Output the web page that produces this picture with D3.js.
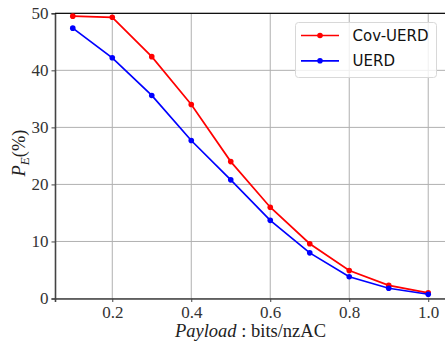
<!DOCTYPE html>
<html>
<head>
<meta charset="utf-8">
<script src="https://cdn.jsdelivr.net/npm/d3@7"></script>
<style>
  html, body { margin: 0; padding: 0; background: #fff; }
  svg { display: block; }
</style>
</head>
<body>
<script>
const payload = [0.1, 0.2, 0.3, 0.4, 0.5, 0.6, 0.7, 0.8, 0.9, 1.0];
const covUERD = [49.5, 49.3, 42.4, 34.0, 24.0, 16.0, 9.6, 4.9, 2.3, 1.0];
const uerd    = [47.4, 42.2, 35.6, 27.7, 20.8, 13.7, 8.0, 3.8, 1.8, 0.75];
const xTicks = [0.2, 0.4, 0.6, 0.8, 1.0];
const yTicks = [0, 10, 20, 30, 40, 50];
const seriesNames = ["Cov-UERD", "UERD"];
const seriesColors = ["#ff0000", "#0000ff"];

const W = 445, H = 347;
const pLeft = 55, pRight = 446, pTop = 13.3, pBottom = 298.5;

const svg = d3.select("body").append("svg").attr("width", W).attr("height", H);

const x = d3.scaleLinear().domain([0.055, 1.045]).range([pLeft, pRight]);
const y = d3.scaleLinear().domain([0, 50]).range([pBottom, pTop]);

const serif = "'Liberation Serif', 'DejaVu Serif', serif";

// grid
const grid = svg.append("g");
grid.selectAll("line.gx").data(xTicks).enter().append("line")
  .attr("x1", d => x(d)).attr("x2", d => x(d))
  .attr("y1", pTop).attr("y2", pBottom)
  .attr("stroke", "#b0b0b0").attr("stroke-width", 1);
grid.selectAll("line.gy").data(yTicks).enter().append("line")
  .attr("x1", pLeft).attr("x2", pRight)
  .attr("y1", d => y(d)).attr("y2", d => y(d))
  .attr("stroke", "#b0b0b0").attr("stroke-width", 1);

// axes
const xAxis = d3.axisBottom(x).tickValues(xTicks).tickFormat(d3.format(".1f")).tickSizeOuter(0).tickSize(3.5).tickPadding(4);
const yAxis = d3.axisLeft(y).tickValues(yTicks).tickFormat(d3.format("d")).tickSizeOuter(0).tickSize(3.5).tickPadding(3);

const gx = svg.append("g").attr("transform", `translate(0,${pBottom})`).call(xAxis);
const gy = svg.append("g").attr("transform", `translate(${pLeft},0)`).call(yAxis);
[gx, gy].forEach(g => {
  g.select(".domain").attr("stroke", "#444").attr("stroke-width", 1.6);
  g.selectAll(".tick line").attr("stroke", "#444").attr("stroke-width", 1);
  g.selectAll(".tick text").attr("font-family", serif).attr("font-size", 17).attr("fill", "#333");
});
// top spine
svg.append("line").attr("x1", pLeft).attr("x2", pRight).attr("y1", pTop).attr("y2", pTop)
  .attr("stroke", "#111").attr("stroke-width", 1.2);

// lines
const series = [covUERD, uerd];
const line = d3.line().x((d, i) => x(payload[i])).y(d => y(d));
series.forEach((vals, k) => {
  svg.append("path").datum(vals).attr("d", line)
    .attr("fill", "none").attr("stroke", seriesColors[k]).attr("stroke-width", 1.7);
  svg.selectAll(null).data(vals).enter().append("circle")
    .attr("cx", (d, i) => x(payload[i])).attr("cy", d => y(d)).attr("r", 2.8)
    .attr("fill", seriesColors[k]);
});

// legend
const lg = svg.append("g");
lg.append("rect").attr("x", 295.5).attr("y", 22.5).attr("width", 141).attr("height", 55)
  .attr("rx", 3).attr("fill", "#fff").attr("fill-opacity", 0.8)
  .attr("stroke", "#d8d8d8").attr("stroke-width", 1);
seriesNames.forEach((name, k) => {
  const yy = 35.5 + k * 25.3;
  lg.append("line").attr("x1", 301).attr("x2", 339).attr("y1", yy).attr("y2", yy)
    .attr("stroke", seriesColors[k]).attr("stroke-width", 1.7);
  lg.append("circle").attr("cx", 320).attr("cy", yy).attr("r", 2.8).attr("fill", seriesColors[k]);
  lg.append("text").attr("x", 352.5).attr("y", yy).attr("dy", "0.36em")
    .attr("font-family", "'DejaVu Sans', sans-serif").attr("font-size", 15).attr("fill", "#111")
    .text(name);
});

// x label
const xl = svg.append("text").attr("x", 250.5).attr("y", 336.5).attr("text-anchor", "middle")
  .attr("font-family", serif).attr("font-size", 18.5).attr("fill", "#222");
xl.append("tspan").attr("font-style", "italic").text("Payload");
xl.append("tspan").text(" : bits/nzAC");

// y label
const yl = svg.append("text").attr("transform", "translate(25,153) rotate(-90)").attr("text-anchor", "middle")
  .attr("font-family", serif).attr("font-size", 18.5).attr("fill", "#222");
yl.append("tspan").attr("font-style", "italic").text("P");
yl.append("tspan").attr("font-style", "italic").attr("font-size", 13).attr("dy", 4).text("E");
yl.append("tspan").attr("dy", -4).text("(%)");
</script>
</body>
</html>
